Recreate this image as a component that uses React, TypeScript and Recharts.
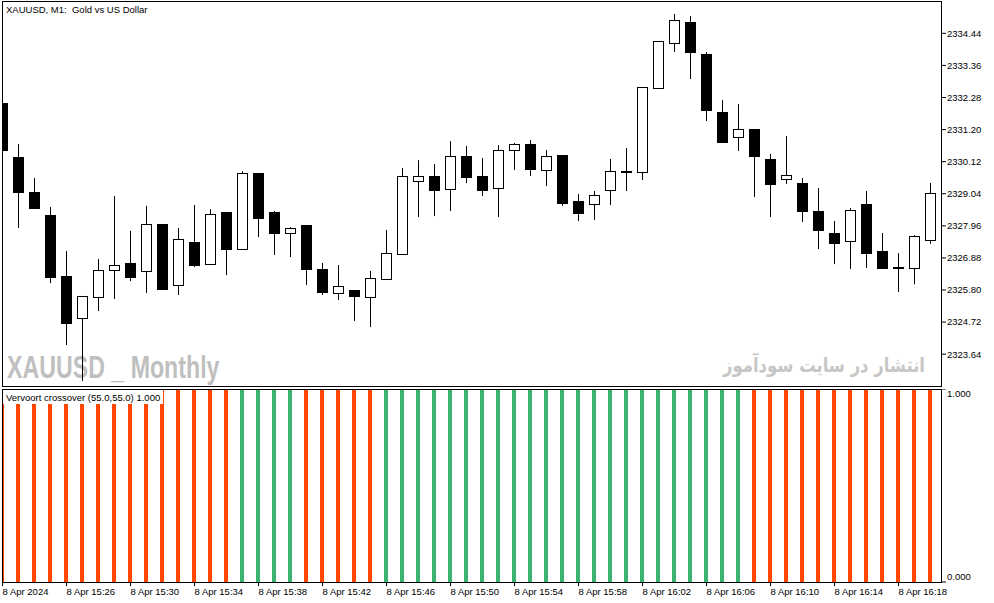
import React from 'react';
import { ComposedChart, BarChart, Bar, XAxis, YAxis } from 'recharts';

// XAUUSD M1, 8 Apr 2024 15:22 .. 16:20 (one candle per minute)
const opens = [
  2332.09, 2330.28, 2329.10, 2328.32, 2326.27, 2324.86, 2325.56, 2326.47, 2326.71, 2326.44,
  2328.02, 2325.97, 2327.41, 2326.67, 2328.42, 2327.18, 2329.74, 2328.42, 2327.72, 2327.99,
  2326.51, 2325.70, 2325.80, 2325.56, 2326.17, 2327.01, 2329.47, 2329.64, 2329.20, 2330.31,
  2329.64, 2329.23, 2330.51, 2330.71, 2329.84, 2330.34, 2328.79, 2328.69, 2329.17, 2329.77,
  2329.77, 2332.60, 2334.11, 2334.82, 2333.74, 2331.79, 2330.95, 2331.22, 2330.21, 2329.54,
  2329.40, 2328.46, 2327.72, 2327.45, 2328.69, 2327.11, 2326.54, 2326.54, 2327.48,
];
const highs = [
  2332.09, 2330.71, 2329.57, 2328.59, 2327.11, 2325.60, 2326.84, 2328.96, 2327.79, 2328.63,
  2328.02, 2327.89, 2328.66, 2328.52, 2328.42, 2329.80, 2329.74, 2328.46, 2327.92, 2327.99,
  2326.71, 2326.64, 2325.80, 2326.44, 2327.82, 2329.91, 2330.17, 2330.04, 2330.81, 2330.65,
  2330.24, 2330.68, 2330.75, 2330.85, 2330.51, 2330.34, 2329.03, 2329.13, 2330.21, 2330.58,
  2332.63, 2334.18, 2335.09, 2335.02, 2333.81, 2332.19, 2332.06, 2331.22, 2330.38, 2330.98,
  2329.57, 2329.23, 2328.12, 2328.56, 2329.13, 2327.72, 2327.04, 2327.65, 2329.40,
];
const lows = [
  2330.51, 2327.89, 2328.56, 2326.03, 2323.95, 2322.74, 2325.09, 2325.50, 2326.10, 2325.70,
  2325.83, 2325.63, 2326.57, 2326.67, 2326.30, 2327.18, 2327.58, 2326.98, 2326.91, 2325.97,
  2325.63, 2325.46, 2324.76, 2324.55, 2326.17, 2327.01, 2328.26, 2328.29, 2328.46, 2329.40,
  2328.96, 2328.26, 2329.84, 2329.64, 2329.30, 2328.63, 2328.12, 2328.16, 2328.66, 2329.13,
  2329.50, 2332.60, 2333.81, 2332.90, 2331.49, 2330.78, 2330.48, 2328.93, 2328.26, 2329.37,
  2328.09, 2327.18, 2326.67, 2326.51, 2326.54, 2326.54, 2325.73, 2325.99, 2327.35,
];
const closes = [
  2330.51, 2329.10, 2328.56, 2326.24, 2324.69, 2325.60, 2326.47, 2326.64, 2326.24, 2328.02,
  2325.83, 2327.52, 2326.64, 2328.36, 2327.18, 2329.74, 2328.22, 2327.72, 2327.89, 2326.51,
  2325.73, 2325.93, 2325.60, 2326.20, 2327.04, 2329.64, 2329.64, 2329.17, 2330.31, 2329.60,
  2329.17, 2330.51, 2330.71, 2329.87, 2330.31, 2328.73, 2328.39, 2329.00, 2329.80, 2329.79,
  2332.63, 2334.18, 2334.89, 2333.81, 2331.86, 2330.78, 2331.22, 2330.31, 2329.37, 2329.67,
  2328.46, 2327.82, 2327.38, 2328.49, 2327.04, 2326.54, 2326.56, 2327.62, 2329.06,
];

// Vervoort crossover histogram: 1 = green (up), 0 = red (down); value 1.000 on every bar
const crossUp = [
  0, 0, 0, 0, 0, 0, 0, 0, 0, 0, 0, 0, 0, 0, 0,
  1, 1, 1, 1,
  0, 0, 0, 0, 0,
  1, 1, 1, 1, 1, 1, 1, 1, 1, 1, 1, 1, 1, 1, 1, 1, 1, 1, 1, 1, 1, 1, 1,
  0, 0, 0, 0, 0, 0, 0, 0, 0, 0, 0, 0,
];

const priceTicks = [
  2323.64, 2324.72, 2325.80, 2326.88, 2327.96, 2329.04, 2330.12, 2331.20, 2332.28, 2333.36, 2334.44,
];
const timeTicks = [0, 4, 8, 12, 16, 20, 24, 28, 32, 36, 40, 44, 48, 52, 56];
const timeLabels = [
  '8 Apr 2024', '8 Apr 15:26', '8 Apr 15:30', '8 Apr 15:34', '8 Apr 15:38', '8 Apr 15:42',
  '8 Apr 15:46', '8 Apr 15:50', '8 Apr 15:54', '8 Apr 15:58', '8 Apr 16:02', '8 Apr 16:06',
  '8 Apr 16:10', '8 Apr 16:14', '8 Apr 16:18',
];

const candles = opens.map((open, i) => ({
  i,
  open,
  high: highs[i],
  low: lows[i],
  close: closes[i],
  range: [lows[i], highs[i]],
}));
const crossData = crossUp.map((up, i) => ({ i, value: 1, up }));

const FONT = '"Liberation Sans", Arial, sans-serif';
const X_DOMAIN = [-0.03125, 58.71875];
const Y_DOMAIN = [2322.535, 2335.494];
const RED = '#ff4500';
const GREEN = '#3cb371';

const Candle = (props: any) => {
  const { x, y, width, height, payload } = props;
  const { open, close, high, low } = payload;
  const cx = Math.round(x + width / 2 - 0.5) + 0.5;
  const top = Math.min(y, y + height);
  const h = Math.abs(height);
  const py = (v: number) => top + ((high - v) / (high - low)) * h;
  const yO = py(open);
  const yC = py(close);
  const bodyTop = Math.round(Math.min(yO, yC)) + 0.5;
  const bodyBot = Math.max(Math.round(Math.max(yO, yC)) + 0.5, bodyTop + 1);
  const up = close > open;
  return (
    <g>
      <line x1={cx} x2={cx} y1={top} y2={top + h} stroke="#000" strokeWidth={1} />
      <rect
        x={cx - 5}
        y={bodyTop}
        width={10}
        height={bodyBot - bodyTop}
        fill={up ? '#fff' : '#000'}
        stroke="#000"
        strokeWidth={1}
      />
    </g>
  );
};

const CrossBar = (props: any) => {
  const { x, y, width, height, payload } = props;
  const cx = Math.floor(x + width / 2);
  return <rect x={cx - 2} y={y} width={4} height={height} fill={payload.up ? GREEN : RED} />;
};

const TimeTick = (props: any) => {
  const { x, y, payload } = props;
  const k = timeTicks.indexOf(payload.value);
  return (
    <text x={x} y={y} dy="0.71em" textAnchor="start" fontSize={9.5} fontFamily={FONT} fill="#000">
      {timeLabels[k]}
    </text>
  );
};

const LevelTick = (props: any) => {
  const { x, y, payload } = props;
  const shift = payload.value === 1 ? 4.5 : -5;
  return (
    <text x={x} y={y + shift} dy="0.355em" textAnchor="start" fontSize={9.5} fontFamily={FONT} fill="#000">
      {payload.value.toFixed(3)}
    </text>
  );
};

const frame: React.CSSProperties = {
  position: 'absolute',
  left: 2,
  width: 940,
  border: '1px solid #000',
  boxSizing: 'border-box',
  pointerEvents: 'none',
};

export default function App() {
  return (
    <div
      style={{
        position: 'absolute',
        left: 0,
        top: 0,
        width: 994,
        height: 603,
        background: '#fff',
        overflow: 'hidden',
        fontFamily: FONT,
      }}
    >
      {/* watermarks sit behind the candles */}
      <div
        style={{
          position: 'absolute',
          left: 7,
          top: 352,
          fontFamily: FONT,
          fontWeight: 'bold',
          fontSize: 30.5,
          lineHeight: 1,
          whiteSpace: 'pre',
          color: '#bfbfbf',
          transform: 'scaleX(0.76)',
          transformOrigin: 'left top',
        }}
      >
        {'XAUUSD _ Monthly'}
      </div>

      <div
        dir="rtl"
        style={{
          position: 'absolute',
          left: 625,
          top: 355,
          width: 300,
          textAlign: 'right',
          fontFamily: '"DejaVu Sans", sans-serif',
          fontWeight: 'bold',
          fontSize: 20,
          lineHeight: 1,
          whiteSpace: 'pre',
          color: '#c6c6c6',
          transform: 'scaleX(0.82)',
          transformOrigin: 'right top',
        }}
      >
        انتشار در سایت سودآموز
      </div>

      <div style={{ position: 'absolute', left: 0, top: 0 }}>
        <ComposedChart width={994} height={388} data={candles} margin={{ top: 2, right: 0, bottom: 1, left: 2 }}>
          <XAxis dataKey="i" type="number" domain={X_DOMAIN} allowDataOverflow hide />
          <YAxis
            orientation="right"
            width={52}
            domain={Y_DOMAIN}
            allowDataOverflow
            ticks={priceTicks}
            interval={0}
            tickSize={4}
            tickMargin={1}
            axisLine={false}
            tickLine={{ stroke: '#000' }}
            tick={{ fill: '#000', fontSize: 9.5, fontFamily: FONT }}
            tickFormatter={(v: number) => v.toFixed(2)}
          />
          <Bar dataKey="range" barSize={11} shape={Candle} isAnimationActive={false} />
        </ComposedChart>
      </div>

      <div style={{ position: 'absolute', left: 0, top: 389 }}>
        <BarChart width={994} height={214} data={crossData} margin={{ top: 0, right: 0, bottom: 0, left: 2 }}>
          <XAxis
            dataKey="i"
            type="number"
            domain={X_DOMAIN}
            allowDataOverflow
            ticks={timeTicks}
            interval={0}
            height={21}
            tickSize={4}
            tickMargin={2}
            axisLine={false}
            tickLine={{ stroke: '#000' }}
            tick={TimeTick}
          />
          <YAxis
            orientation="right"
            width={52}
            domain={[0, 1]}
            ticks={[0, 1]}
            interval={0}
            tickSize={4}
            tickMargin={1}
            axisLine={false}
            tickLine={{ stroke: '#000' }}
            tick={LevelTick}
          />
          <Bar dataKey="value" barSize={4} shape={CrossBar} isAnimationActive={false} />
        </BarChart>
      </div>

      <div style={{ ...frame, top: 1, height: 386 }} />
      <div style={{ ...frame, top: 389, height: 194 }} />

      <div
        style={{
          position: 'absolute',
          left: 6,
          top: 4,
          fontSize: 9.5,
          lineHeight: '12px',
          whiteSpace: 'pre',
          color: '#000',
        }}
      >
        {'XAUUSD, M1:  Gold vs US Dollar'}
      </div>

      <div
        style={{
          position: 'absolute',
          left: 3,
          top: 390,
          width: 160,
          height: 14,
          paddingLeft: 3,
          boxSizing: 'border-box',
          background: '#fff',
          fontSize: 9.5,
          lineHeight: '16px',
          whiteSpace: 'pre',
          color: '#000',
        }}
      >
        Vervoort crossover (55.0,55.0) 1.000
      </div>
    </div>
  );
}
